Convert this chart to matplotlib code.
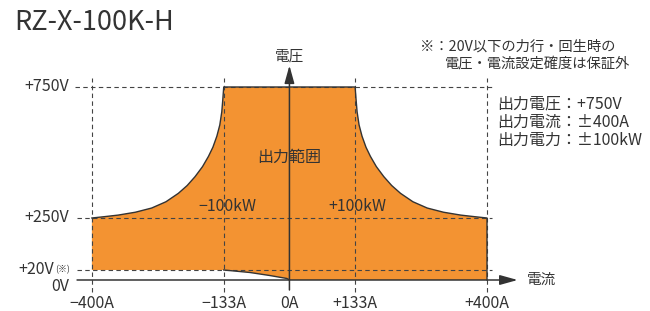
import numpy as np
import matplotlib
matplotlib.use('Agg')
import matplotlib.pyplot as plt

plt.rcParams['font.family'] = ['Noto Sans CJK JP', 'DejaVu Sans']

# operating range (current in A, voltage in V)
curve_i = [133, 135, 137, 141, 147, 155, 164, 176, 191, 207, 225, 250, 279, 312, 347, 375, 400]
curve_v = [750, 700, 655, 605, 562, 520, 485, 446, 408, 374, 344, 312, 288, 272, 261, 255, 250]
low_i = [-133, -80, -40, -5, 0]
low_v = [20, 15, 9, 3, 0]
grid_i = [-400, -133, 133, 400]
xtick_labels = ['−400A', '−133A', '0A', '+133A', '+400A']
xtick_pos = [-400, -133, 0, 133, 400]
ytick_labels = ['+750V', '+250V', '+20V', '0V']
ytick_pos = [750, 250, 20, 0]
specs = ['出力電圧：+750V', '出力電流：±400A', '出力電力：±100kW']

# the voltage axis in the original is stretched near the bottom
V_KNOTS = [-100, 0, 20, 250, 750, 1200]
P_KNOTS = [-50, 0, 10, 62, 193, 310.9]
def fwd(v):
    return np.interp(v, V_KNOTS, P_KNOTS)
def inv(p):
    return np.interp(p, P_KNOTS, V_KNOTS)

orange = '#F39332'
ink = '#333333'

fig = plt.figure(figsize=(6.5, 3.11), dpi=100)
ax = fig.add_axes([0, 0, 1, 1])
ax.set_yscale('function', functions=(fwd, inv))
ax.set_xlim(-586, 730)
ax.set_ylim(-62, 1082)
ax.axis('off')

# region polygon
left_i = [-i for i in curve_i[::-1]]
left_v = curve_v[::-1]
xs = [-400] + left_i + curve_i + [400, 0] + low_i[::-1][1:] + [-400]
ys = [20] + left_v + curve_v + [0, 0] + low_v[::-1][1:] + [20]
ax.fill(xs, ys, color=orange, lw=0, zorder=1)

# outline
ax.plot(left_i + curve_i + [400], left_v + curve_v + [0], color=ink, lw=1, zorder=3)
ax.plot(low_i, low_v, color=ink, lw=1, zorder=3)

# dashed guides
dash = dict(color='#444444', lw=0.8, ls=(0, (4, 3)), zorder=2)
ax.plot([-434, 410], [750, 750], **dash)
ax.plot([-430, 410], [250, 250], **dash)
ax.plot([-430, 410], [20, 20], **dash)
for gi in grid_i:
    ax.plot([gi, gi], [-24, 784], **dash)

# axes with arrows
arrow = dict(arrowstyle='-|>,head_length=0.9,head_width=0.25', color=ink, lw=1.1,
             mutation_scale=12, shrinkA=0, shrinkB=0)
ax.annotate('', xy=(462, 0), xytext=(-430, 0), arrowprops=arrow, zorder=4)
ax.annotate('', xy=(0, 832), xytext=(0, -20), arrowprops=arrow, zorder=4)
ax.text(481, 0, '電流', fontsize=10.5, color=ink, ha='left', va='center')
ax.text(0, 866, '電圧', fontsize=10.5, color=ink, ha='center', va='center')

# tick labels
for lab, x in zip(xtick_labels, xtick_pos):
    ax.text(x, -48, lab, fontsize=11.5, color=ink, ha='center', va='center')
for lab, v in zip(ytick_labels, ytick_pos):
    if lab == '+20V':
        ax.text(-476, v, lab, fontsize=11.5, color=ink, ha='right', va='center')
        ax.text(-444, v, '(※)', fontsize=6.5, color=ink, ha='right', va='center')
    elif lab == '0V':
        ax.text(-446, -14, lab, fontsize=11.5, color=ink, ha='right', va='center')
    else:
        ax.text(-446, v, lab, fontsize=11.5, color=ink, ha='right', va='center')

# region labels
ax.text(0, 483, '出力範囲', fontsize=11.5, color=ink, ha='center', va='center')
ax.text(-126, 295, '−100kW', fontsize=11.5, color=ink, ha='center', va='center')
ax.text(137, 295, '+100kW', fontsize=11.5, color=ink, ha='center', va='center')

# spec block
for k, s in enumerate(specs):
    fig.text(497 / 650, 1 - (104 + 18 * k) / 311, s, fontsize=11.5, color=ink,
             ha='left', va='center')

# title and note
fig.text(14 / 650, 1 - 22 / 311, 'RZ-X-100K-H', fontsize=19.5, color=ink, ha='left', va='center')
fig.text(420 / 650, 1 - 47 / 311, '※：20V以下の力行・回生時の', fontsize=10.3, color=ink,
         ha='left', va='center')
fig.text(445 / 650, 1 - 64 / 311, '電圧・電流設定確度は保証外', fontsize=10.3, color=ink,
         ha='left', va='center')

fig.savefig('out.png', dpi=100)
